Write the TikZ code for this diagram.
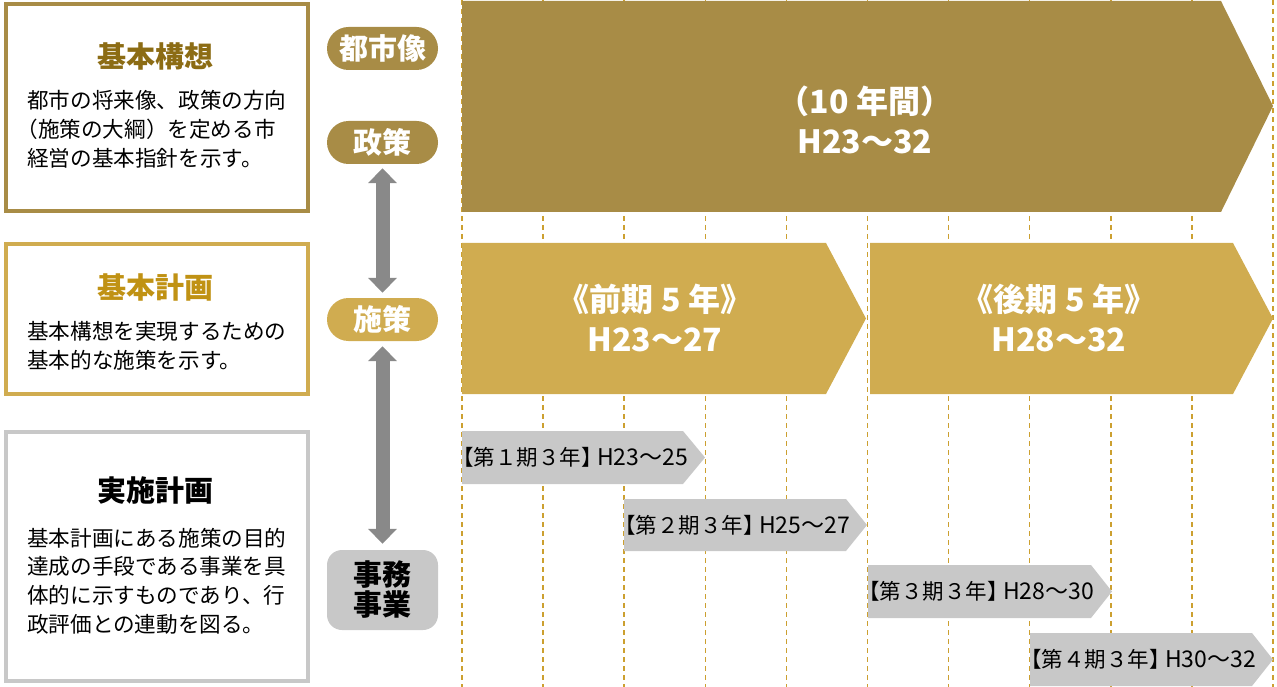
\documentclass[tikz,border=0pt]{standalone}
\usepackage{fontspec}
\setmainfont{Noto Sans CJK JP}
\usetikzlibrary{arrows.meta}
\definecolor{gdark}{RGB}{168,140,70}
\definecolor{glight}{RGB}{208,172,80}
\definecolor{gry}{RGB}{200,200,200}
\definecolor{arrgray}{RGB}{137,137,137}
\definecolor{dashcol}{RGB}{204,160,48}
\definecolor{titleone}{RGB}{140,108,20}
\definecolor{titletwo}{RGB}{192,146,20}
\newcommand{\lb}{\makebox[0.5em][r]{【}}
\newcommand{\rb}{\makebox[0.5em][l]{】}}
\begin{document}
\begin{tikzpicture}[x=1pt,y=-1pt,
  frame/.style={line width=4pt},
  titletxt/.style={font=\bfseries\fontsize{29}{32}\selectfont, inner sep=0},
  bodytxt/.style={font=\fontsize{21.6}{28.8}\selectfont, align=left, anchor=west, inner sep=0},
  pill/.style={rounded corners=21.5pt, minimum width=111pt, minimum height=43pt, text=white,
    font=\bfseries\fontsize{29}{30}\selectfont, inner sep=0},
  bigarrow/.style={draw=arrgray, line width=14pt,
    arrows={Triangle[width=28pt,length=15pt]-Triangle[width=28pt,length=15pt]}},
  dashline/.style={draw=dashcol, line width=1.5pt, dash pattern=on 5pt off 4pt},
  bigtxt/.style={text=white, font=\bfseries\fontsize{32}{40}\selectfont, align=center, inner sep=0},
  smalltxt/.style={font=\fontsize{21.5}{24}\selectfont, anchor=west, inner sep=0, text=black}
]
\useasboundingbox (0,0) rectangle (1277,687);

% dashed grid
\foreach \i in {0,...,10} {
  \draw[dashline] (462+81.1*\i,0) -- (462+81.1*\i,687);
}

% big chevron
\fill[gdark] (462,1) -- (1221,1) -- (1273,106) -- (1221,212) -- (462,212) -- cycle;
\node[bigtxt] (ten) at (865,120) {（10 年間）\\H23～32};

% five-year chevrons
\fill[glight] (462,243) -- (826,243) -- (866,318.5) -- (826,394) -- (462,394) -- cycle;
\fill[glight] (870,243) -- (1233,243) -- (1273,318.5) -- (1233,394) -- (870,394) -- cycle;
\node[bigtxt] (zenki) at (655,318) {《前期 5 年》\\H23～27};
\node[bigtxt] (kouki) at (1059,318) {《後期 5 年》\\H28～32};

% three-year chevrons
\fill[gry] (462,431) -- (683,431) -- (705,457.5) -- (683,484) -- (462,484) -- cycle;
\fill[gry] (624,499) -- (846,499) -- (867,525) -- (846,551) -- (624,551) -- cycle;
\fill[gry] (868,565) -- (1091,565) -- (1112,591.5) -- (1091,618) -- (868,618) -- cycle;
\fill[gry] (1030,633) -- (1252,633) -- (1273,659.5) -- (1252,686) -- (1030,686) -- cycle;
\node[smalltxt] (p1) at (463,457.5) {\lb 第１期３年\rb{} {\fontsize{23}{24}\selectfont H23～25}};
\node[smalltxt] (p2) at (625,525) {\lb 第２期３年\rb{} {\fontsize{23}{24}\selectfont H25～27}};
\node[smalltxt] (p3) at (869,591.5) {\lb 第３期３年\rb{} {\fontsize{23}{24}\selectfont H28～30}};
\node[smalltxt] (p4) at (1031,659.5) {\lb 第４期３年\rb{} {\fontsize{23}{24}\selectfont H30～32}};

% left boxes
\draw[frame, draw=gdark] (6,4) rectangle (308,211.5);
\draw[frame, draw=glight] (6,244.5) rectangle (308,393.7);
\draw[frame, draw=gry] (6,431.7) rectangle (308,681.2);

\node[titletxt, text=titleone] (t1) at (155,56.5) {基本構想};
\node[bodytxt] (b1) at (27,129.2) {都市の将来像、政策の方向\\\makebox[0.5em][r]{（}施策の大綱）を定める市\\経営の基本指針を示す。};
\node[titletxt, text=titletwo] (t2) at (155,287) {基本計画};
\node[bodytxt] (b2) at (27,345.7) {基本構想を実現するための\\基本的な施策を示す。};
\node[titletxt, text=black] (t3) at (155,491) {実施計画};
\node[bodytxt] (b3) at (27,581) {基本計画にある施策の目的\\達成の手段である事業を具\\体的に示すものであり、行\\政評価との連動を図る。};

% pills
\node[pill, fill=gdark] (toshi) at (382.5,48.5) {都市像};
\node[pill, fill=gdark] (seisaku) at (382.5,142.5) {政策};
\node[pill, fill=glight] (shisaku) at (382.5,319.5) {施策};
\node[pill, fill=gry, text=black, rounded corners=15pt, minimum height=80pt, align=center] (jimu) at (382.5,590) {事務\\事業};

% arrows
\draw[bigarrow, shorten <=4pt, shorten >=5pt] (seisaku.south) -- (shisaku.north);
\draw[bigarrow, shorten <=5pt, shorten >=6pt] (shisaku.south) -- (jimu.north);
\end{tikzpicture}
\end{document}
